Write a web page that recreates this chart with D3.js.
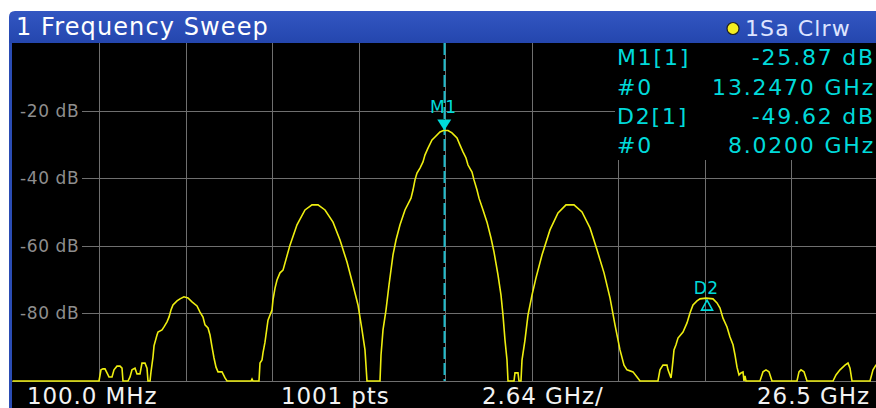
<!DOCTYPE html>
<html><head><meta charset="utf-8">
<script src="https://cdn.jsdelivr.net/npm/d3@7"></script>
<style>
html,body{margin:0;padding:0;background:#fff;}
svg{display:block;}
text{font-family:"DejaVu Sans",Verdana,sans-serif;}
</style></head>
<body><svg id="chart" width="876" height="408"></svg>
<script>
// ---- data ----
const freqGHz = [0.100,2.740,2.801,2.862,2.923,2.984,3.045,3.137,3.198,3.289,3.381,3.442,3.472,3.625,3.686,3.747,3.839,3.900,3.991,4.052,4.144,4.205,4.235,4.297,4.327,4.388,4.419,4.510,4.541,4.663,4.724,4.815,4.876,4.937,4.998,5.121,5.212,5.334,5.456,5.578,5.731,5.823,5.914,5.975,6.067,6.128,6.189,6.250,6.311,6.372,6.494,6.586,6.647,7.379,7.410,7.440,7.623,7.654,7.715,7.745,7.806,7.898,8.020,8.050,8.112,8.173,8.264,8.356,8.569,8.783,9.027,9.241,9.424,9.638,9.882,10.095,10.309,10.492,10.645,10.767,10.858,10.919,11.255,11.316,11.347,11.408,11.499,11.591,11.713,11.805,11.927,12.079,12.262,12.323,12.384,12.445,12.537,12.628,12.690,12.781,12.903,12.995,13.147,13.247,13.391,13.513,13.666,13.758,13.849,13.941,14.002,14.124,14.185,14.277,14.338,14.460,14.582,14.704,14.795,14.917,15.009,15.070,15.131,15.192,15.223,15.406,15.436,15.528,15.558,15.619,15.650,15.741,15.833,15.955,16.077,16.260,16.504,16.749,16.993,17.237,17.481,17.725,17.939,18.153,18.336,18.488,18.641,18.763,18.855,19.038,19.160,19.252,19.800,19.861,19.953,20.075,20.106,20.198,20.228,20.259,20.289,20.350,20.411,20.564,20.686,20.777,20.869,20.991,21.083,21.267,21.479,21.601,21.693,21.784,21.907,21.998,22.090,22.151,22.212,22.273,22.334,22.395,22.425,22.456,22.486,22.914,23.005,23.097,23.188,23.280,24.043,24.104,24.165,24.257,24.348,25.142,25.233,25.355,25.508,25.600,25.661,25.722,26.271,26.363,26.454,26.500];
const levelDb = [-100.0,-100.0,-96.7,-96.4,-96.4,-97.6,-98.8,-98.8,-96.7,-95.6,-95.6,-96.2,-100.0,-100.0,-98.8,-96.7,-96.2,-97.9,-97.9,-94.7,-94.7,-96.2,-100.0,-100.0,-97.3,-92.9,-89.6,-86.4,-85.5,-84.9,-84.0,-82.5,-81.1,-79.0,-77.5,-76.3,-75.7,-75.1,-75.4,-76.6,-77.8,-79.6,-81.1,-83.4,-84.3,-86.4,-89.9,-93.2,-95.9,-97.3,-97.3,-99.1,-100.0,-100.0,-99.4,-100.0,-100.0,-94.7,-93.8,-91.7,-88.5,-82.0,-79.0,-76.0,-72.5,-70.1,-68.0,-67.2,-59.8,-53.8,-49.4,-47.9,-47.9,-49.4,-53.0,-58.3,-64.8,-71.6,-77.5,-84.9,-90.8,-100.0,-100.0,-100.0,-92.3,-84.9,-79.0,-71.6,-62.7,-58.3,-53.8,-49.4,-45.9,-43.5,-40.5,-38.5,-37.0,-35.2,-33.1,-31.1,-28.7,-27.8,-26.3,-25.87,-25.9,-26.6,-28.1,-30.2,-32.2,-34.0,-36.1,-38.2,-40.5,-43.5,-45.9,-49.4,-53.0,-57.7,-61.8,-68.6,-74.6,-80.5,-87.9,-93.8,-100.0,-100.0,-97.6,-97.6,-100.0,-100.0,-93.8,-87.9,-80.5,-74.6,-69.5,-62.7,-55.3,-50.3,-47.9,-47.9,-50.0,-54.7,-61.2,-68.0,-75.4,-83.4,-90.8,-95.3,-96.7,-97.3,-98.8,-100.0,-100.0,-96.7,-95.3,-95.3,-96.7,-99.1,-96.7,-93.8,-90.8,-89.3,-87.3,-85.5,-82.8,-79.9,-77.5,-76.3,-75.7,-75.49,-75.7,-76.9,-78.4,-81.4,-84.0,-87.0,-89.3,-92.3,-95.9,-98.2,-97.6,-97.3,-100.0,-98.5,-100.0,-100.0,-97.3,-96.7,-97.3,-100.0,-100.0,-97.3,-96.7,-97.3,-100.0,-100.0,-98.2,-96.7,-95.3,-94.7,-96.2,-100.0,-100.0,-96.7,-95.3,-95.0];

const yTickValues = [-20, -40, -60, -80];
const yTickLabels = ["-20 dB", "-40 dB", "-60 dB", "-80 dB"];
const freqStartGHz = 0.1, freqStopGHz = 26.5, freqDivGHz = 2.64;
const refLevelDb = 0, bottomLevelDb = -100;

const markerNames = ["M1", "D2"];
const markerFreqGHz = [13.247, 21.267];
const markerLevelDb = [-25.87, -75.49];
const tableLeft = ["M1[1]", "#0", "D2[1]", "#0"];
const tableRight = ["-25.87 dB", "13.2470 GHz", "-49.62 dB", "8.0200 GHz"];

const titleText = "1 Frequency Sweep";
const traceText = "1Sa Clrw";
const footLabels = ["100.0 MHz", "1001 pts", "2.64 GHz/", "26.5 GHz"];

// ---- drawing ----
const svg = d3.select("#chart");
const W = 876, H = 408;
const plotL = 12.5, plotR = 877.5, plotT = 43, plotB = 381;

const x = d3.scaleLinear().domain([freqStartGHz, freqStopGHz]).range([plotL, plotR]);
const y = d3.scaleLinear().domain([bottomLevelDb, refLevelDb]).range([plotB, plotT]);

const defs = svg.append("defs");
const grad = defs.append("linearGradient").attr("id","tb").attr("x1",0).attr("y1",0).attr("x2",0).attr("y2",1);
grad.append("stop").attr("offset","0%").attr("stop-color","#3356c2");
grad.append("stop").attr("offset","100%").attr("stop-color","#2446ae");
defs.append("clipPath").attr("id","clip").append("rect")
  .attr("x",12).attr("y",plotT).attr("width",W-12).attr("height",plotB-plotT+1.5);

// left blue border and title bar
svg.append("rect").attr("x",9).attr("y",30).attr("width",4).attr("height",H-30).attr("fill","#2a4cb4");
svg.append("path").attr("d",`M9,${plotT} L9,17 Q9,11 15,11 L${W},11 L${W},${plotT} Z`).attr("fill","url(#tb)");
svg.append("rect").attr("x",12).attr("y",plotT).attr("width",W-12).attr("height",H-plotT).attr("fill","#000");

// grid
const gridColor = "#6f6f6f";
const xTicks = d3.range(0, 11).map(i => freqStartGHz + i*freqDivGHz);
svg.append("g").selectAll("line").data(xTicks.slice(1,10)).join("line")
  .attr("x1",d=>Math.round(x(d))+0.5).attr("x2",d=>Math.round(x(d))+0.5)
  .attr("y1",plotT).attr("y2",plotB)
  .attr("stroke",gridColor).attr("stroke-width",1);
svg.append("g").selectAll("line").data(yTickValues).join("line")
  .attr("x1",82).attr("x2",W)
  .attr("y1",d=>Math.round(y(d))+0.5).attr("y2",d=>Math.round(y(d))+0.5)
  .attr("stroke",gridColor).attr("stroke-width",1);
svg.append("line").attr("x1",12).attr("x2",W).attr("y1",plotB+0.5).attr("y2",plotB+0.5)
  .attr("stroke",gridColor).attr("stroke-width",1);
svg.append("g").selectAll("text").data(yTickValues).join("text")
  .attr("x",20).attr("y",d=>y(d)+6)
  .attr("fill","#8e8e8e").attr("font-size",17).attr("letter-spacing",0.6)
  .text((d,i)=>yTickLabels[i]);

// marker table box
svg.append("rect").attr("x",615).attr("y",plotT).attr("width",W-615).attr("height",160-plotT).attr("fill","#000");

// M1 vertical dashed line
const cyan = "#00dada";
svg.append("line").attr("x1",Math.round(x(markerFreqGHz[0]))+1.5).attr("x2",Math.round(x(markerFreqGHz[0]))+1.5)
  .attr("y1",plotT).attr("y2",plotB)
  .attr("stroke","#1cbccc").attr("stroke-width",2).attr("stroke-dasharray","12,4");

// trace
const pts = freqGHz.map((f,i)=>[f, levelDb[i]]);
svg.append("path").datum(pts)
  .attr("clip-path","url(#clip)")
  .attr("fill","none").attr("stroke","#eeee10").attr("stroke-width",1.6)
  .attr("d", d3.line().x(d=>x(d[0])).y(d=>y(d[1])).curve(d3.curveLinear));

// markers
const m1x = x(markerFreqGHz[0]) + 1, m1y = y(markerLevelDb[0]);
svg.append("path").attr("d",`M${m1x-7},${m1y-11} L${m1x+7},${m1y-11} L${m1x},${m1y} Z`).attr("fill",cyan);
svg.append("text").attr("x",m1x-1).attr("y",m1y-17).attr("text-anchor","middle")
  .attr("fill",cyan).attr("font-size",17).attr("letter-spacing",0.4).text(markerNames[0]);
const d2x = x(markerFreqGHz[1]) + 1, d2y = y(markerLevelDb[1]) + 1;
svg.append("path").attr("d",`M${d2x},${d2y+1} L${d2x+5.5},${d2y+11} L${d2x-5.5},${d2y+11} Z`)
  .attr("fill","none").attr("stroke",cyan).attr("stroke-width",1.6);
svg.append("text").attr("x",d2x-1).attr("y",d2y-5).attr("text-anchor","middle")
  .attr("fill",cyan).attr("font-size",17).attr("letter-spacing",0.4).text(markerNames[1]);

// table text
const rowY = [65, 95, 124, 153];
svg.append("g").selectAll("text").data(tableLeft).join("text")
  .attr("x",617).attr("y",(d,i)=>rowY[i]).attr("fill",cyan)
  .attr("font-size",22).attr("letter-spacing",1.8).text(d=>d);
svg.append("g").selectAll("text").data(tableRight).join("text")
  .attr("x",875).attr("y",(d,i)=>rowY[i]).attr("fill",cyan).attr("text-anchor","end")
  .attr("font-size",22).attr("letter-spacing",1.8).text(d=>d);

// title
svg.append("text").attr("x",16).attr("y",35).attr("fill","#ffffff")
  .attr("font-size",24).attr("letter-spacing",1.1).text(titleText);
svg.append("circle").attr("cx",733).attr("cy",28.5).attr("r",6)
  .attr("fill","#f4ee20").attr("stroke","#202020").attr("stroke-width",1.2);
svg.append("text").attr("x",745).attr("y",36).attr("fill","#dde4ff")
  .attr("font-size",22).attr("letter-spacing",1.1).text(traceText);

// footer
const footX = [27, 281, 482, 870];
const footAnchor = ["start","start","start","end"];
svg.append("g").selectAll("text").data(footLabels).join("text")
  .attr("x",(d,i)=>footX[i]).attr("y",404).attr("text-anchor",(d,i)=>footAnchor[i])
  .attr("fill","#f2f2f2").attr("font-size",23).attr("letter-spacing",0.9).text(d=>d);
</script></body></html>
